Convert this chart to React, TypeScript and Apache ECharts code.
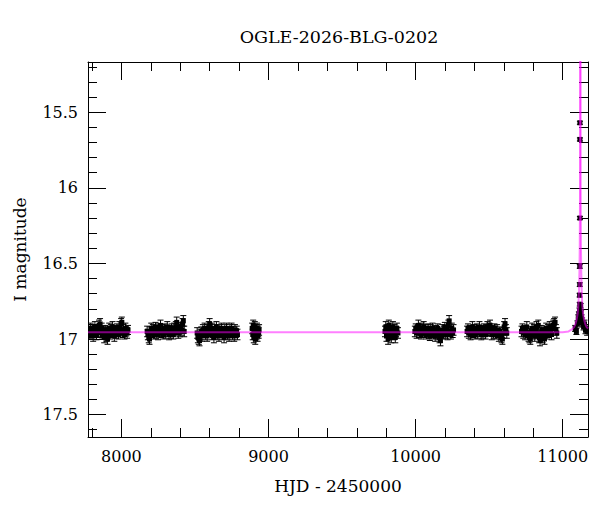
import React, { useEffect, useRef } from "react";
import * as echarts from "echarts";

const TITLE = "OGLE-2026-BLG-0202";
const X_NAME = "HJD - 2450000";
const Y_NAME = "I magnitude";
const X_MIN = 7773;
const X_MAX = 11172;
const Y_MIN = 15.168;
const Y_MAX = 17.648;
const X_MAJOR = [8000, 9000, 10000, 11000];
const X_MINOR = [7800, 8200, 8400, 8600, 8800, 9200, 9400, 9600, 9800, 10200, 10400, 10600, 10800];
const Y_MAJOR = [15.5, 16, 16.5, 17, 17.5];
const Y_MINOR = [15.2, 15.3, 15.4, 15.6, 15.7, 15.8, 15.9, 16.1, 16.2, 16.3, 16.4, 16.6, 16.7, 16.8, 16.9, 17.1, 17.2, 17.3, 17.4, 17.6];

// [HJD-2450000, I mag, error]
const obsSeason1 = [
  [7780,16.95,.035],[7786,16.97,.03],[7791,16.93,.035],[7797,16.96,.03],[7803,16.94,.035],[7808,16.98,.035],[7814,16.95,.03],[7820,16.92,.035],[7825,16.96,.03],[7831,16.97,.035],[7837,16.94,.03],[7842,16.95,.035],[7848,16.91,.035],[7855,16.90,.035],[7860,16.96,.03],[7866,16.93,.035],[7871,16.97,.03],[7877,16.95,.035],[7883,16.99,.035],[7889,16.94,.03],[7894,16.96,.035],[7900,16.98,.035],[7906,17.00,.035],[7912,16.95,.03],[7917,16.93,.035],[7923,16.97,.03],[7929,16.94,.035],[7935,16.96,.03],[7940,16.92,.035],[7946,16.95,.03],[7952,16.98,.035],[7957,16.94,.03],[7963,16.96,.035],[7969,16.93,.03],[7975,16.95,.035],[7980,16.97,.03],[7986,16.92,.035],[7992,16.95,.03],[7998,16.90,.035],[8003,16.89,.035],[8009,16.96,.03],[8015,16.94,.035],[8021,16.97,.03],[8027,16.93,.035],[8033,16.95,.03],[8039,16.96,.035],[8045,16.94,.03],
];
const obsSeason2 = [
  [8175,16.95,.035],[8180,16.97,.035],[8186,16.99,.035],[8191,17.00,.035],[8197,16.95,.03],[8203,16.93,.035],[8209,16.96,.03],[8214,16.94,.035],[8220,16.97,.03],[8226,16.95,.035],[8232,16.92,.03],[8237,16.96,.035],[8243,16.94,.03],[8249,16.97,.035],[8255,16.93,.03],[8260,16.95,.035],[8266,16.91,.035],[8272,16.96,.03],[8278,16.94,.035],[8284,16.97,.03],[8289,16.95,.035],[8295,16.93,.03],[8301,16.96,.035],[8307,16.94,.03],[8312,16.92,.035],[8318,16.95,.03],[8324,16.97,.035],[8330,16.94,.03],[8335,16.96,.035],[8341,16.93,.03],[8347,16.95,.035],[8353,16.97,.03],[8358,16.93,.035],[8364,16.95,.03],[8370,16.92,.035],[8376,16.89,.035],[8381,16.94,.03],[8387,16.96,.035],[8393,16.93,.03],[8399,16.95,.035],[8404,16.92,.03],[8410,16.94,.035],[8416,16.90,.035],[8421,16.88,.035],[8427,16.95,.035],
];
const obsSeason3 = [
  [8515,16.96,.035],[8520,16.99,.035],[8526,17.00,.035],[8531,17.01,.035],[8537,16.97,.035],[8543,16.95,.03],[8548,16.98,.035],[8554,16.94,.035],[8560,16.96,.03],[8566,16.93,.035],[8571,16.97,.035],[8577,16.95,.03],[8583,16.98,.035],[8589,16.94,.035],[8594,16.92,.035],[8600,16.90,.035],[8606,16.95,.03],[8611,16.97,.035],[8617,16.93,.035],[8623,16.96,.03],[8629,16.99,.035],[8634,16.94,.035],[8640,16.96,.03],[8646,16.92,.035],[8652,16.97,.035],[8657,16.95,.03],[8663,16.98,.035],[8669,16.94,.035],[8675,16.96,.03],[8680,16.93,.035],[8686,16.97,.035],[8692,16.95,.03],[8698,16.99,.035],[8703,16.94,.035],[8709,16.96,.03],[8715,16.93,.035],[8721,16.97,.035],[8726,16.95,.03],[8732,16.98,.035],[8738,16.94,.035],[8744,16.96,.03],[8749,16.93,.035],[8755,16.97,.035],[8761,16.95,.03],[8767,16.98,.035],[8772,16.94,.035],[8778,16.96,.03],[8784,16.95,.035],[8789,16.97,.035],
];
const obsSeason4 = [
  [8889,16.93,.035],[8893,16.97,.035],[8896,16.91,.035],[8900,16.99,.035],[8903,16.95,.035],[8907,16.92,.035],[8910,17.00,.035],[8914,16.94,.035],[8918,16.97,.035],[8922,16.93,.035],[8926,16.98,.035],[8930,16.95,.035],[8933,16.96,.035],[8936,16.94,.035],
];
const obsSeason5 = [
  [9792,16.95,.035],[9797,16.92,.035],[9802,16.98,.035],[9808,16.94,.035],[9813,17.00,.035],[9818,16.91,.035],[9824,16.96,.035],[9829,16.93,.035],[9835,16.99,.035],[9840,16.95,.035],[9846,16.92,.035],[9851,16.97,.035],[9856,16.94,.035],[9862,16.99,.035],[9867,16.95,.035],[9873,16.93,.035],[9880,16.96,.035],
];
const obsSeason6 = [
  [9995,16.95,.035],[10001,16.93,.03],[10007,16.96,.035],[10013,16.94,.03],[10019,16.91,.035],[10025,16.96,.03],[10031,16.94,.035],[10037,16.97,.03],[10043,16.93,.035],[10049,16.95,.03],[10055,16.92,.035],[10061,16.96,.03],[10067,16.94,.035],[10073,16.97,.03],[10079,16.95,.035],[10085,16.93,.03],[10091,16.96,.035],[10097,16.98,.03],[10103,16.94,.035],[10109,16.96,.03],[10115,16.93,.035],[10121,16.97,.03],[10127,16.95,.035],[10133,16.98,.035],[10139,16.94,.03],[10145,16.96,.035],[10151,16.93,.03],[10157,16.97,.035],[10163,16.99,.035],[10169,17.01,.035],[10175,16.96,.03],[10181,16.94,.035],[10187,16.97,.03],[10193,16.95,.035],[10199,16.92,.03],[10205,16.96,.035],[10211,16.94,.03],[10217,16.97,.035],[10223,16.91,.035],[10228,16.88,.035],[10234,16.95,.035],[10240,16.97,.03],[10246,16.93,.035],[10252,16.96,.03],[10258,16.94,.035],
];
const obsSeason7 = [
  [10350,16.95,.035],[10356,16.93,.03],[10362,16.96,.035],[10368,16.94,.03],[10374,16.97,.035],[10380,16.95,.03],[10386,16.92,.035],[10392,16.96,.03],[10398,16.94,.035],[10404,16.97,.03],[10410,16.95,.035],[10416,16.93,.03],[10422,16.96,.035],[10428,16.94,.03],[10434,16.92,.035],[10440,16.95,.03],[10446,16.97,.035],[10452,16.94,.03],[10458,16.96,.035],[10464,16.93,.03],[10470,16.95,.035],[10476,16.97,.03],[10482,16.94,.035],[10488,16.92,.035],[10494,16.95,.03],[10500,16.93,.035],[10506,16.91,.035],[10512,16.95,.03],[10518,16.97,.035],[10524,16.94,.03],[10530,16.96,.035],[10536,16.93,.03],[10542,16.95,.035],[10548,16.97,.03],[10554,16.94,.035],[10560,16.96,.03],[10566,16.98,.035],[10572,16.95,.03],[10578,16.97,.035],[10584,16.99,.035],[10590,17.00,.035],[10596,16.96,.035],[10602,16.92,.035],[10608,16.90,.035],[10614,16.94,.035],[10620,16.96,.035],
];
const obsSeason8 = [
  [10720,16.95,.035],[10726,16.93,.03],[10732,16.96,.035],[10738,16.94,.03],[10744,16.97,.035],[10750,16.95,.03],[10756,16.92,.035],[10762,16.96,.03],[10768,16.98,.035],[10774,16.99,.035],[10780,17.00,.035],[10786,16.95,.03],[10792,16.93,.035],[10798,16.97,.03],[10804,16.94,.035],[10810,16.98,.035],[10816,16.95,.03],[10822,16.92,.035],[10828,16.96,.035],[10834,16.91,.035],[10840,16.99,.035],[10846,17.01,.035],[10852,16.97,.035],[10858,16.94,.03],[10864,16.99,.035],[10870,16.96,.035],[10876,17.00,.035],[10882,16.95,.03],[10888,16.93,.035],[10894,16.97,.03],[10900,16.94,.035],[10906,16.96,.03],[10912,16.92,.035],[10918,16.95,.03],[10924,16.97,.035],[10930,16.93,.03],[10936,16.91,.035],[10942,16.90,.035],[10948,16.89,.035],[10954,16.94,.035],[10960,16.96,.035],
];
const obsEvent = [
  [11085,16.93,.02],[11093,16.95,.02],[11100,16.90,.02],[11106,16.86,.02],[11110,16.84,.02],[11112,16.88,.02],
  [11114,16.81,.015],[11116,16.77,.012],[11115,16.71,.012],[11116,16.64,.012],[11116,16.52,.012],
  [11117,16.20,.01],[11117,15.68,.01],[11117,15.57,.01],
  [11122,16.78,.015],[11125,16.83,.02],[11128,16.86,.02],[11132,16.88,.02],[11136,16.90,.02],[11142,16.92,.02],[11148,16.90,.025],[11155,16.94,.025],[11160,16.93,.025],[11166,16.95,.025],
];

// model light curve: rising and falling branches
const modelRise = [
  [7773,16.955],[10900,16.955],[11000,16.955],[11040,16.95],[11065,16.935],[11078,16.92],[11087,16.90],[11095,16.87],[11102,16.83],[11107,16.77],[11111,16.68],[11114,16.55],[11116,16.38],[11117.5,16.10],[11118.5,15.80],[11119.3,15.40],[11120,14.90],
];
const modelFall = [
  [11120,14.90],[11120.7,15.40],[11121.5,15.80],[11122.5,16.10],[11124,16.38],[11126,16.55],[11129,16.68],[11133,16.77],[11138,16.83],[11145,16.87],[11153,16.90],[11162,16.92],[11172,16.93],
];

const FONT = "DejaVu Serif";
const INK = "#000";
const MODEL_COLOR = "rgba(255,0,255,0.5)";

function xAxis(position: string, ticks: number[], len: number, labels: boolean, line: boolean, name?: string) {
  return {
    type: "value",
    min: X_MIN,
    max: X_MAX,
    position,
    name: name || "",
    nameLocation: "middle",
    nameGap: 40,
    nameTextStyle: { fontFamily: FONT, fontSize: 17, color: INK },
    axisLine: { show: line, onZero: false, lineStyle: { color: INK, width: 1 } },
    axisTick: { show: true, inside: true, length: len, customValues: ticks, lineStyle: { color: INK, width: 1 } },
    axisLabel: {
      show: labels,
      customValues: ticks,
      fontFamily: FONT,
      fontSize: 16,
      color: INK,
      margin: 11,
      formatter: (v: number) => String(v),
    },
    splitLine: { show: false },
    minorTick: { show: false },
  };
}

function yAxis(position: string, ticks: number[], len: number, labels: boolean, line: boolean, name?: string) {
  return {
    type: "value",
    inverse: true,
    min: Y_MIN,
    max: Y_MAX,
    position,
    name: name || "",
    nameLocation: "middle",
    nameGap: 60,
    nameRotate: 90,
    nameTextStyle: { fontFamily: FONT, fontSize: 17, color: INK },
    axisLine: { show: line, onZero: false, lineStyle: { color: INK, width: 1 } },
    axisTick: { show: true, inside: true, length: len, customValues: ticks, lineStyle: { color: INK, width: 1 } },
    axisLabel: {
      show: labels,
      customValues: ticks,
      fontFamily: FONT,
      fontSize: 16,
      color: INK,
      margin: 10,
      formatter: (v: number) => String(v),
    },
    splitLine: { show: false },
    minorTick: { show: false },
  };
}

export default function App() {
  const ref = useRef<HTMLDivElement>(null);
  useEffect(() => {
    if (!ref.current) return;
    const chart = echarts.init(ref.current, null, { renderer: "svg" });
    const obs = [
      ...obsSeason1, ...obsSeason2, ...obsSeason3, ...obsSeason4,
      ...obsSeason5, ...obsSeason6, ...obsSeason7, ...obsSeason8, ...obsEvent,
    ];
    chart.setOption({
      animation: false,
      backgroundColor: "#fff",
      title: {
        text: TITLE,
        left: 334,
        top: 23,
        textAlign: "center",
        textStyle: { fontFamily: FONT, fontSize: 17.5, fontWeight: "normal", color: INK },
      },
      grid: { left: 88, right: 12, top: 62, bottom: 75, containLabel: false },
      xAxis: [
        xAxis("bottom", X_MAJOR, 18, true, true, X_NAME),
        xAxis("bottom", X_MINOR, 9, false, false),
        xAxis("top", X_MAJOR, 18, false, true),
        xAxis("top", X_MINOR, 9, false, false),
      ],
      yAxis: [
        yAxis("left", Y_MAJOR, 18, true, true, Y_NAME),
        yAxis("left", Y_MINOR, 9, false, false),
        yAxis("right", Y_MAJOR, 18, false, true),
        yAxis("right", Y_MINOR, 9, false, false),
      ],
      series: [
        {
          type: "custom",
          xAxisIndex: 0,
          yAxisIndex: 0,
          clip: true,
          z: 2,
          encode: { x: 0, y: 1 },
          data: obs,
          renderItem: (_params: any, api: any) => {
            const t = api.value(0) as number;
            const m = api.value(1) as number;
            const e = api.value(2) as number;
            const c = api.coord([t, m]);
            const hi = api.coord([t, m - e]);
            const lo = api.coord([t, m + e]);
            const cap = 3;
            const st = { stroke: INK, lineWidth: 1 };
            return {
              type: "group",
              children: [
                { type: "line", shape: { x1: c[0], y1: hi[1], x2: c[0], y2: lo[1] }, style: st },
                { type: "line", shape: { x1: c[0] - cap, y1: hi[1], x2: c[0] + cap, y2: hi[1] }, style: st },
                { type: "line", shape: { x1: c[0] - cap, y1: lo[1], x2: c[0] + cap, y2: lo[1] }, style: st },
                { type: "rect", shape: { x: c[0] - 2.5, y: c[1] - 2.5, width: 5, height: 5 }, style: { fill: INK } },
              ],
            };
          },
        },
        {
          type: "line",
          xAxisIndex: 0,
          yAxisIndex: 0,
          data: modelRise,
          showSymbol: false,
          symbol: "none",
          clip: true,
          z: 3,
          lineStyle: { color: MODEL_COLOR, width: 2 },
        },
        {
          type: "line",
          xAxisIndex: 0,
          yAxisIndex: 0,
          data: modelFall,
          showSymbol: false,
          symbol: "none",
          clip: true,
          z: 3,
          lineStyle: { color: MODEL_COLOR, width: 2 },
        },
      ],
    });
    return () => chart.dispose();
  }, []);
  return (
    <div
      ref={ref}
      style={{ position: "absolute", left: 0, top: 0, width: 600, height: 512, background: "#fff" }}
    />
  );
}
